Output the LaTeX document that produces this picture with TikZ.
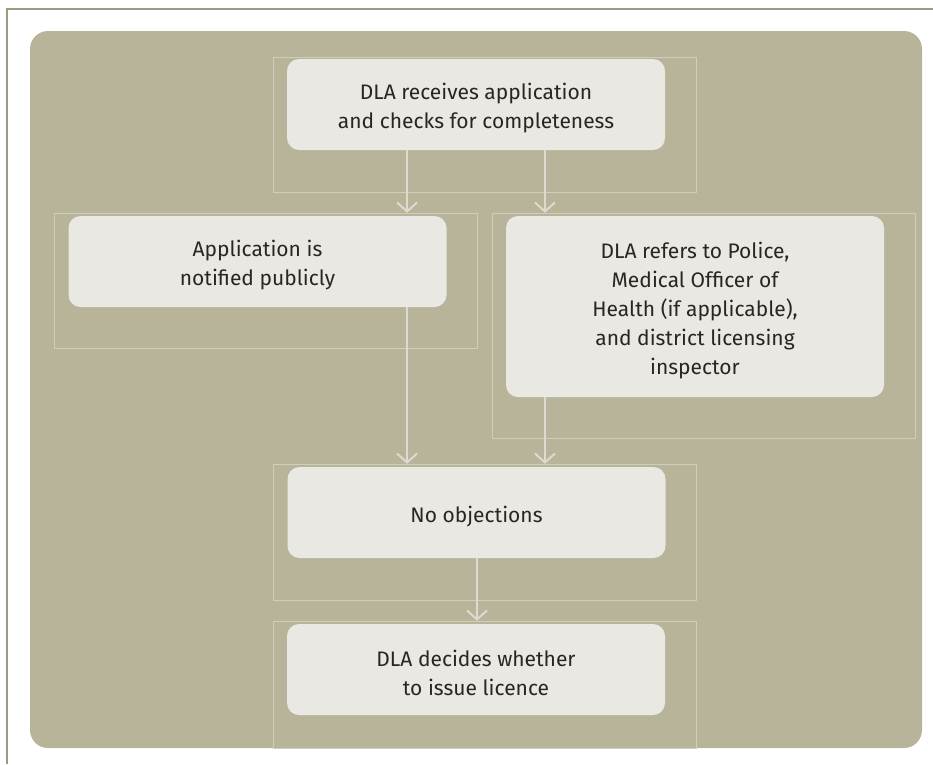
\documentclass[tikz,border=0pt]{standalone}
\usepackage{fontspec}
\setmainfont{Fira Sans}
\usetikzlibrary{arrows.meta}
\definecolor{panelbg}{HTML}{B8B49A}
\definecolor{boxfill}{HTML}{EAE8E2}
\definecolor{framecol}{HTML}{D0CEBB}
\definecolor{flowcol}{HTML}{DCDAD1}
\definecolor{rulecol}{HTML}{9A9A7E}
\definecolor{textcol}{HTML}{262626}
\newcommand{\topstrut}{\rule{0pt}{24pt}}

\begin{document}
\begin{tikzpicture}[x=1pt, y=-1pt,
  stage/.style={rectangle, rounded corners=12pt, fill=boxfill, text=textcol, align=center,
                font=\fontsize{21}{29}\selectfont, minimum width=378pt, minimum height=91pt, inner sep=0pt},
  guide/.style={draw=framecol, line width=0.7pt},
  flow/.style={draw=flowcol, line width=2pt, shorten >=3pt, -{Straight Barb[length=9pt,width=20pt]}}]
\useasboundingbox (0,0) rectangle (933,764);

  % page rule and panel
  \draw[rulecol, line width=1.5pt] (7,764) -- (7,9) -- (933,9);
  \fill[panelbg, rounded corners=18pt] (30,31) rectangle (922,748);

  % faint frames
  \draw[guide] (273,57) rectangle (696,192);
  \draw[guide] (54,213) rectangle (477,348);
  \draw[guide] (492,213) rectangle (915,438);
  \draw[guide] (273,464) rectangle (696,600);
  \draw[guide] (273,621) rectangle (696,748);

  % steps
  \node[stage] (recv) at (476,104.5) {\topstrut DLA receives application\\and checks for completeness};
  \node[stage] (notify) at (257.5,261.5) {\topstrut Application is\\notified publicly};
  \node[stage, minimum height=181pt] (refer) at (695,306.5)
        {\topstrut DLA refers to Police,\\Medical Officer of\\Health (if applicable),\\and district licensing\\inspector};
  \node[stage] (noobj) at (476.5,512.5) {\topstrut No objections};
  \node[stage] (decide) at (476,669.5) {\topstrut DLA decides whether\\to issue licence};

  % lanes for the arrows
  \coordinate (laneL) at (407,0);
  \coordinate (laneR) at (545,0);
  \coordinate (laneM) at (477,0);

  \draw[flow] (recv.south -| laneL) -- (notify.north -| laneL);
  \draw[flow] (recv.south -| laneR) -- (refer.north -| laneR);
  \draw[flow] (notify.south -| laneL) -- (noobj.north -| laneL);
  \draw[flow] (refer.south -| laneR) -- (noobj.north -| laneR);
  \draw[flow] (noobj.south -| laneM) -- (decide.north -| laneM);
\end{tikzpicture}
\end{document}
